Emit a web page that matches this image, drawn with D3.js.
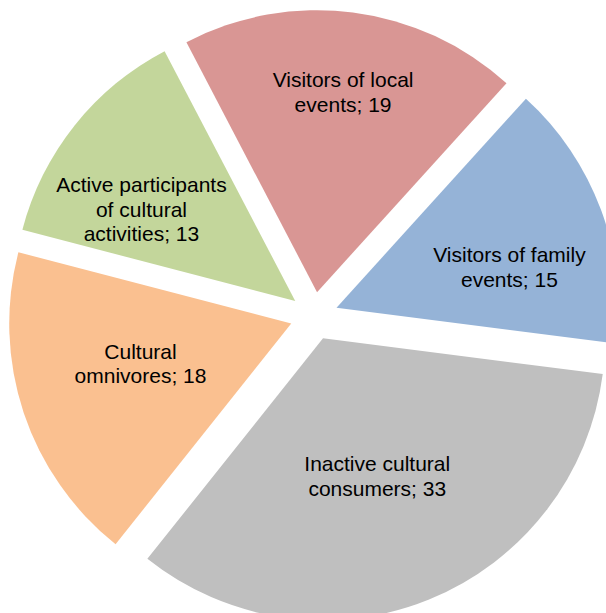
<!DOCTYPE html>
<html>
<head>
<meta charset="utf-8">
<script src="https://cdn.jsdelivr.net/npm/d3@7"></script>
<style>
  html, body { margin: 0; padding: 0; background: #fff; }
  svg { display: block; }
</style>
</head>
<body>
<svg id="chart" width="606" height="613"></svg>
<script>
// ---- data (clockwise order) ----
const categories = [
  "Visitors of family events",
  "Inactive cultural consumers",
  "Cultural omnivores",
  "Active participants of cultural activities",
  "Visitors of local events"
];
const values = [15, 33, 18, 13, 19];
const colors = ["#95B3D7", "#BFBFBF", "#FAC090", "#C3D69B", "#D99694"];

// ---- layout ----
const W = 606, H = 613;
const cx = 314, cy = 316;
const radius = 282;
const explode = 24;
const firstSliceAngle = 42.2;          // degrees, clockwise from 12 o'clock
const labelRadiusFrac = [0.63, 0.525, 0.553, 0.635, 0.716];
const labelAngleShift = [7, 0.6, 3.6, -7.7, 0.1]; // degrees
const fontSize = 21, lineHeight = 24.5, wrapWidth = 174;

const svg = d3.select("#chart");
const g = svg.append("g").attr("transform", `translate(${cx},${cy})`);

const start = firstSliceAngle * Math.PI / 180;
const pie = d3.pie().sort(null).value(d => d.value)
  .startAngle(start).endAngle(start + 2 * Math.PI);
const data = categories.map((c, i) => ({ name: c, value: values[i], color: colors[i], i }));
const arcs = pie(data);
const arc = d3.arc().innerRadius(0).outerRadius(radius);

const slices = g.selectAll("g.slice").data(arcs).enter().append("g")
  .attr("class", "slice")
  .attr("transform", d => {
    const a = (d.startAngle + d.endAngle) / 2;
    return `translate(${explode * Math.sin(a)},${-explode * Math.cos(a)})`;
  });

slices.append("path")
  .attr("d", arc)
  .attr("fill", d => d.data.color);

// text wrapping helper
const measurer = svg.append("text")
  .attr("font-family", "Liberation Sans, Arial, sans-serif")
  .attr("font-size", fontSize).attr("visibility", "hidden");
function wrap(str) {
  const words = str.split(" ");
  const lines = [];
  let cur = "";
  words.forEach(w => {
    const test = cur ? cur + " " + w : w;
    measurer.text(test);
    if (cur && measurer.node().getComputedTextLength() > wrapWidth) {
      lines.push(cur); cur = w;
    } else cur = test;
  });
  if (cur) lines.push(cur);
  return lines;
}

slices.each(function(d) {
  const i = d.data.i;
  const a = (d.startAngle + d.endAngle) / 2 + labelAngleShift[i] * Math.PI / 180;
  const r = radius * labelRadiusFrac[i];
  const x = r * Math.sin(a), y = -r * Math.cos(a);
  const lines = wrap(d.data.name + "; " + d.data.value);
  const t = d3.select(this).append("text")
    .attr("font-family", "Liberation Sans, Arial, sans-serif")
    .attr("font-size", fontSize)
    .attr("fill", "#000")
    .attr("text-anchor", "middle");
  const y0 = y - (lines.length - 1) * lineHeight / 2 + fontSize * 0.35;
  lines.forEach((ln, k) => {
    t.append("tspan").attr("x", x).attr("y", y0 + k * lineHeight).text(ln);
  });
});
measurer.remove();
</script>
</body>
</html>
